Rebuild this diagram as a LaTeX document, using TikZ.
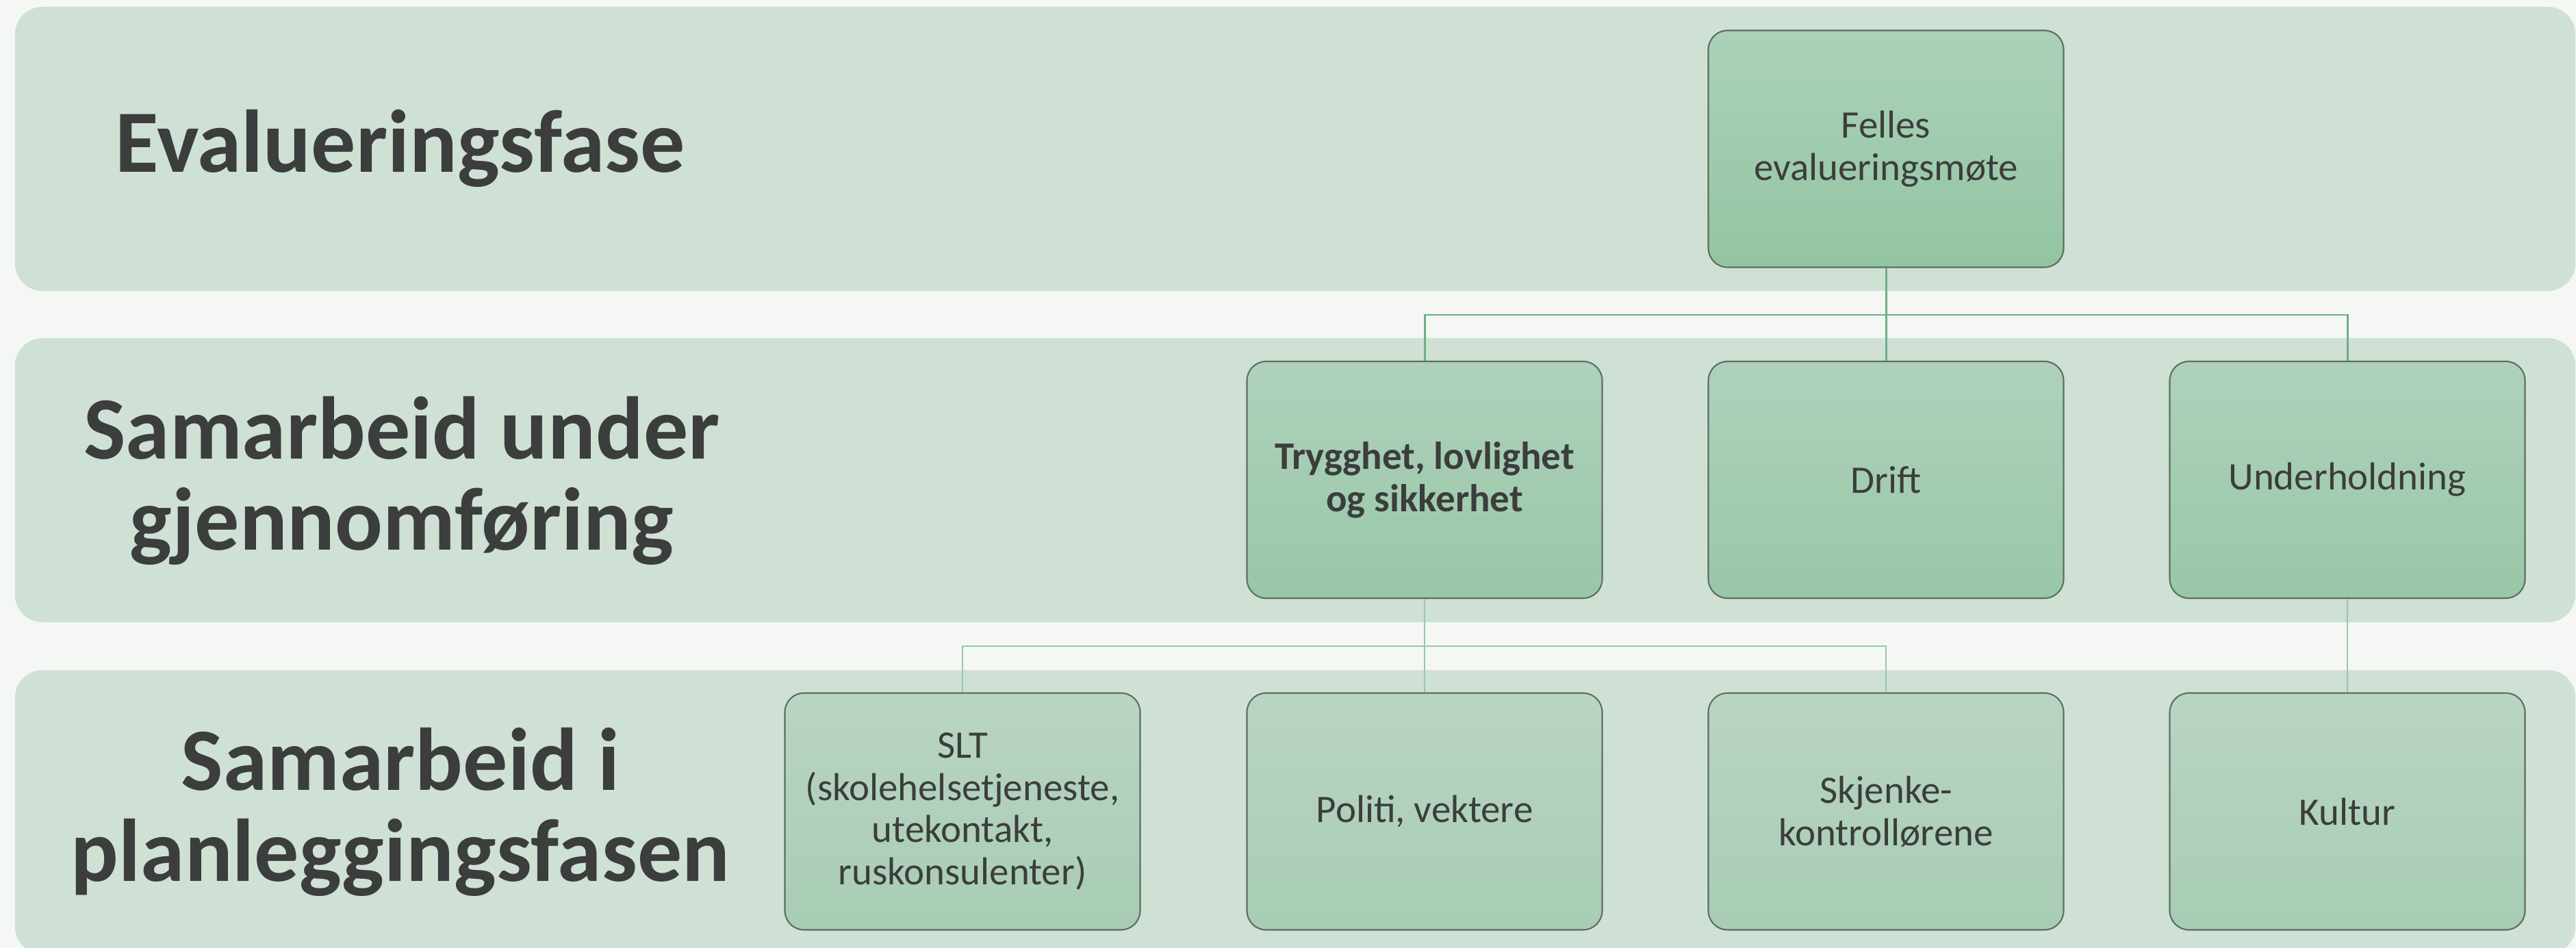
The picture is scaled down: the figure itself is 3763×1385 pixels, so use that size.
\documentclass[tikz,border=0pt]{standalone}
\usepackage{fontspec}
\setmainfont{Carlito}
\definecolor{bgc}{HTML}{F4F7F4}
\definecolor{bandc}{HTML}{CFE0D5}
\definecolor{txt}{HTML}{3B3E3C}
\definecolor{edge}{HTML}{5D6E62}
\definecolor{linea}{HTML}{6DAF86}
\definecolor{lineb}{HTML}{98C7A8}
\definecolor{fA}{HTML}{ACD1B9}
\definecolor{fB}{HTML}{93C5A2}
\definecolor{sA}{HTML}{AFD1BB}
\definecolor{sB}{HTML}{99C7A8}
\definecolor{tA}{HTML}{B9D5C3}
\definecolor{tB}{HTML}{A8CCB4}
\tikzset{
  band/.style={fill=bandc, rounded corners=4mm},
  title/.style={text=txt, align=center, inner sep=0pt,
    font=\bfseries\fontsize{37}{37.8}\selectfont},
  box/.style={draw=edge, line width=0.6pt, rounded corners=2.8mm,
    minimum width=51.9mm, minimum height=34.6mm, inner sep=0pt,
    text=txt, align=center, font=\fontsize{16.2}{17.6}\selectfont},
  boxtop/.style={box, top color=fA, bottom color=fB},
  boxmid/.style={box, top color=sA, bottom color=sB},
  boxlow/.style={box, top color=tA, bottom color=tB},
  conna/.style={draw=linea, line width=0.85pt},
  connb/.style={draw=lineb, line width=0.75pt},
}
\begin{document}
\begin{tikzpicture}[x=0.1mm, y=-0.1mm]
\useasboundingbox (0,0) rectangle (3763,1385);
\fill[bgc] (0,0) rectangle (3763,1385);
% bands
\fill[band] (22,10) rectangle (3762,425);
\fill[band] (22,494) rectangle (3762,909);
\fill[band] (22,979) rectangle (3762,1394);
% titles
\node[title, anchor=base] (t1) at (585,252) {Evalueringsfase};
\node[title] (t2) at (587,702) {Samarbeid under\\gjennomføring};
\node[title] (t3) at (585,1186) {Samarbeid i\\planleggingsfasen};
% boxes
\node[boxtop] (felles) at (2755,217.5) {Felles\\evalueringsmøte};
\node[boxmid] (tryg) at (2081,701) {\bfseries Trygghet, lovlighet\\\bfseries og sikkerhet};
\node[boxmid] (drift) at (2755,701) {Drift};
\node[boxmid] (under) at (3429,701) {Underholdning};
\node[boxlow] (slt) at (1406,1185.5) {SLT\\(skolehelsetjeneste,\\utekontakt,\\ruskonsulenter)};
\node[boxlow] (pol) at (2081,1185.5) {Politi, vektere};
\node[boxlow] (skj) at (2755,1185.5) {Skjenke-\\kontrollørene};
\node[boxlow] (kul) at (3429,1185.5) {Kultur};
% connectors
\coordinate (busA) at (2755,460);
\coordinate (busB) at (2081,944);
\draw[conna] (felles.south) -- (busA);
\draw[conna] (tryg.north) |- (busA) -| (under.north);
\draw[conna] (busA) -- (drift.north);
\draw[connb] (tryg.south) -- (busB);
\draw[connb] (slt.north) |- (busB) -| (skj.north);
\draw[connb] (busB) -- (pol.north);
\draw[connb] (under.south) -- (kul.north);
\end{tikzpicture}
\end{document}
